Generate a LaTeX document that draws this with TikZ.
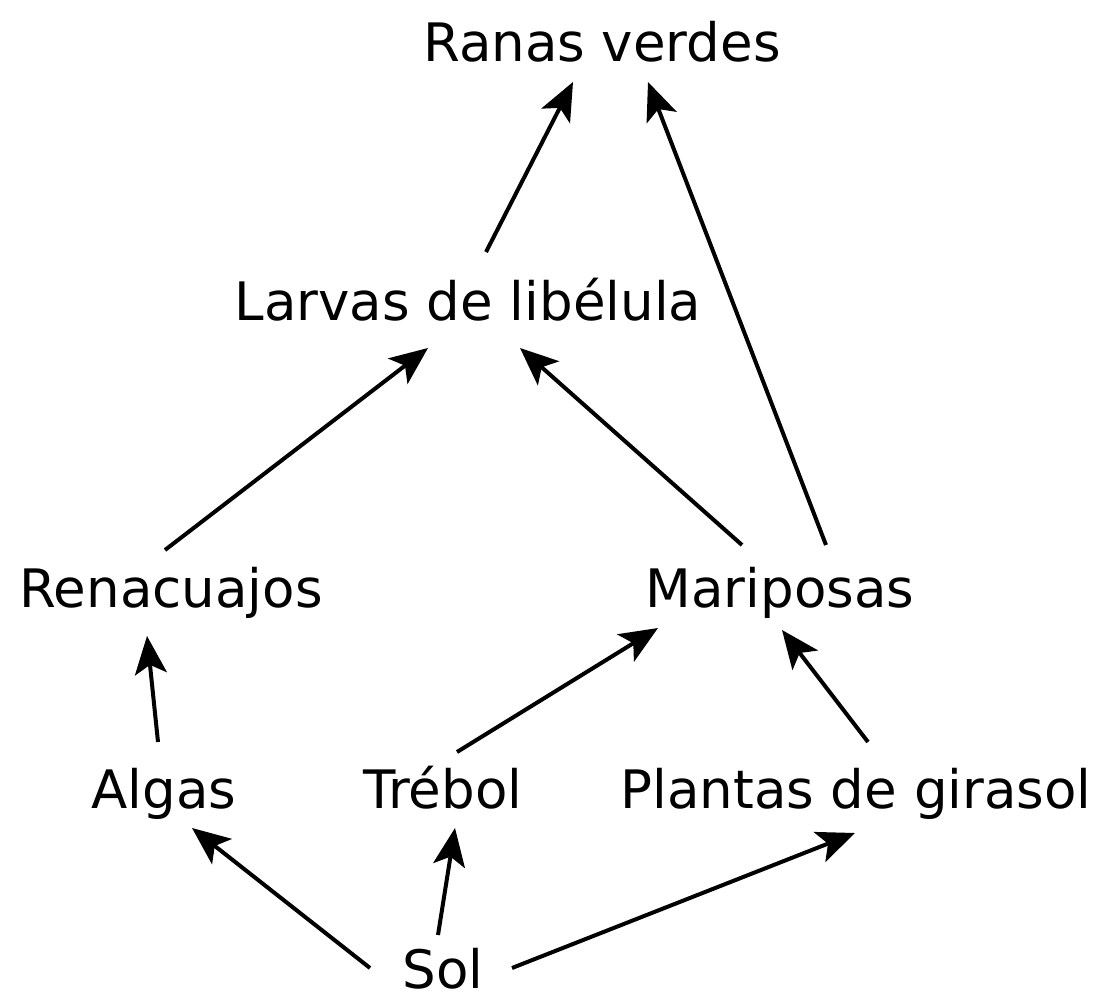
\documentclass[tikz,border=0pt]{standalone}
\usepackage{fontspec}
\setmainfont{DejaVu Sans}
\usetikzlibrary{arrows.meta}
\begin{document}
\begin{tikzpicture}[x=1pt,y=-1pt,
  lbl/.style={anchor=base,inner sep=0pt,font=\fontsize{53}{60}\selectfont},
  arr/.style={line width=4pt,-{Stealth[length=38pt,width=32pt,inset=9pt]}}]
\useasboundingbox (0,0) rectangle (1101,993);
\node[lbl] (ranas) at (602,61) {Ranas verdes};
\node[lbl] (larvas) at (468,320) {Larvas de libélula};
\node[lbl] (renac) at (171,607) {Renacuajos};
\node[lbl] (marip) at (780,607) {Mariposas};
\node[lbl] (algas) at (164,808) {Algas};
\node[lbl] (trebol) at (443,808) {Trébol};
\node[lbl] (plantas) at (856,808) {Plantas de girasol};
\node[lbl] (sol) at (443,988) {Sol};
\draw[arr] ([shift={(-73,-20)}]sol.base) -- ([shift={(28,20)}]algas.base);
\draw[arr] ([shift={(-5,-53)}]sol.base) -- ([shift={(12,20)}]trebol.base);
\draw[arr] ([shift={(69,-20)}]sol.base) -- ([shift={(-1,25)}]plantas.base);
\draw[arr] ([shift={(-6,-66)}]algas.base) -- ([shift={(-24,29)}]renac.base);
\draw[arr] ([shift={(14,-56)}]trebol.base) -- ([shift={(-122,21)}]marip.base);
\draw[arr] ([shift={(12,-66)}]plantas.base) -- ([shift={(2,23)}]marip.base);
\draw[arr] ([shift={(-6,-57)}]renac.base) -- ([shift={(-40,28)}]larvas.base);
\draw[arr] ([shift={(-38,-62)}]marip.base) -- ([shift={(52,28)}]larvas.base);
\draw[arr] ([shift={(18,-68)}]larvas.base) -- ([shift={(-29,21)}]ranas.base);
\draw[arr] ([shift={(46,-62)}]marip.base) -- ([shift={(46,21)}]ranas.base);
\end{tikzpicture}
\end{document}
